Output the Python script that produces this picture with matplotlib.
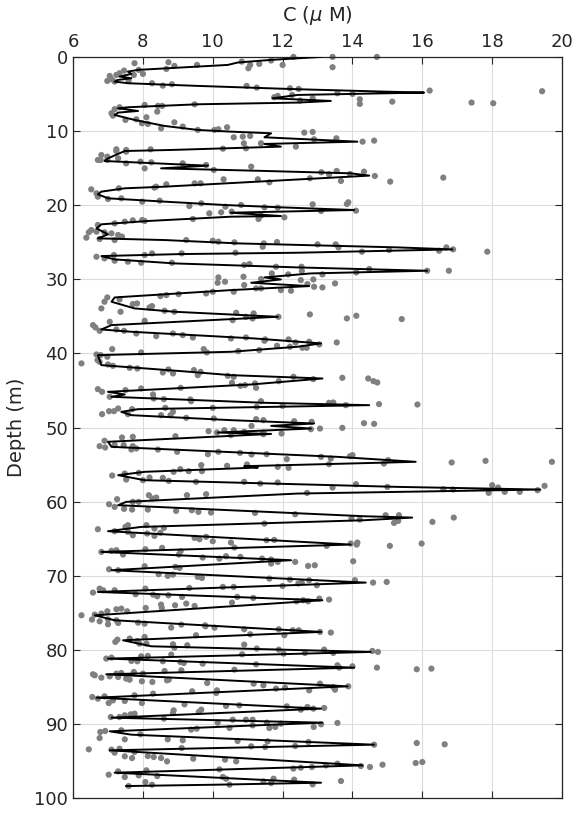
import numpy as np
import matplotlib.pyplot as plt

# black profile trace (C in uM, depth in m)
line_c = [13.10, 11.67, 10.71, 10.43, 9.57, 7.86, 7.57, 7.67, 7.33, 7.67, 7.29, 7.19,
          7.57, 9.57, 12.43, 14.90, 16.05,
          12.43, 11.71, 13.38, 12.43, 9.57, 7.57, 7.29, 7.86, 7.29, 7.19,
          7.76, 8.62, 9.57, 10.52, 11.67, 11.48, 14.14,
          11.48, 11.95, 8.81, 7.48, 7.00, 6.90, 9.86, 8.52, 11.48, 13.95, 14.48,
          11.67, 8.62, 7.48, 6.81, 6.71, 7.00, 8.62, 10.33, 11.95, 14.05,
          10.52, 11.95, 10.52, 8.14, 6.81, 6.67, 7.00, 6.71, 8.62, 10.71,
          15.29, 16.86, 12.43, 9.10, 6.81, 7.19, 8.90, 12.43, 16.14,
          12.81, 11.48, 11.95, 11.10, 12.76, 10.52, 7.19, 7.10, 7.76, 8.90, 11.86,
          7.10, 6.81, 7.67, 11.19, 13.10, 12.43, 10.52, 6.71, 6.81, 9.10, 10.52, 13.14,
          11.10, 7.00, 7.48, 7.10, 11.48, 14.48, 7.86, 7.38, 7.67, 10.52, 12.90, 11.67, 12.81, 10.14,
          11.67, 7.00, 7.10, 13.57, 15.81, 10.90, 11.29, 8.05, 7.29, 8.05, 15.29, 19.38,
          12.43, 7.52, 7.29, 14.33, 15.71, 14.33, 7.95,
          7.00, 13.95, 6.81, 12.24, 7.10, 14.38, 6.71, 13.14, 6.62,
          7.19, 13.10, 7.43, 8.24, 14.52, 7.00, 14.05, 6.95, 13.86, 6.67, 13.10, 7.10,
          13.14, 7.05, 7.67, 14.62, 7.05, 14.29, 7.19, 13.10, 10.05, 7.52]
line_depth = [0.00, 0.40, 0.76, 1.08, 1.30, 1.75, 1.98, 2.29, 2.65, 2.88, 3.10, 3.33,
              3.55, 3.91, 4.36, 4.68, 4.81,
              5.13, 5.58, 5.94, 6.16, 6.39, 6.79, 6.93, 7.29, 7.51, 7.83,
              8.50, 9.31, 9.85, 10.08, 10.30, 10.84, 11.43,
              11.74, 12.10, 12.55, 12.69, 13.68, 14.04, 14.67, 15.03, 15.38, 15.70, 16.01,
              16.73, 17.50, 17.72, 18.17, 18.53, 19.07, 19.52, 19.97, 20.29, 20.65,
              21.01, 21.46, 21.55, 22.13, 22.58, 23.12, 23.93, 24.47, 24.70, 25.15,
              25.69, 25.96, 26.41, 26.59, 26.86, 27.31, 27.85, 28.39, 28.84,
              29.20, 29.74, 30.01, 30.46, 30.91, 31.45, 32.44, 33.02, 33.92, 34.37, 35.05,
              36.17, 36.76, 37.07, 37.97, 38.64, 39.09, 39.77, 40.22, 41.57, 42.38, 42.92, 43.37,
              44.18, 45.17, 45.53, 45.84, 46.65, 46.97, 47.51, 47.87, 48.32, 48.99, 49.44, 49.76, 50.12, 50.66,
              50.85, 51.91, 52.59, 53.94, 54.61, 55.20, 55.38, 55.96, 56.41, 57.09, 57.99, 58.35,
              58.89, 60.01, 60.46, 61.95, 62.13, 62.49, 63.39,
              63.97, 65.77, 66.76, 67.88, 69.23, 70.90, 72.16, 73.28, 75.31,
              75.98, 77.55, 78.68, 79.49, 80.25, 81.15, 82.37, 83.27, 84.89, 86.42, 87.90, 89.12,
              89.79, 90.96, 91.41, 92.76, 93.52, 95.55, 96.54, 97.89, 98.16, 98.34]

# grey sample points (C, depth)
dots = [
    (12.31, 0.0), (13.43, 0.0), (14.70, 0.0), (13.43, 1.39), (7.76, 0.85), (8.73, 0.72), (8.90, 1.21),
    (9.55, 1.08), (10.83, 0.63), (11.07, 1.08), (11.02, 1.53), (11.33, 0.94), (11.67, 0.49), (12.00, 1.08),
    (8.67, 1.62), (7.88, 1.75), (8.00, 2.29), (7.74, 2.43), (7.46, 1.85), (7.33, 2.20), (7.24, 2.43),
    (7.05, 2.56), (7.10, 3.00), (6.98, 3.24), (7.19, 3.33), (7.59, 3.20), (8.26, 3.55), (8.57, 3.87),
    (8.83, 3.69), (10.97, 3.91), (11.26, 4.14), (12.21, 4.23), (12.46, 4.32), (12.27, 5.13), (11.86, 5.26),
    (11.76, 5.44), (12.50, 5.89), (12.86, 5.58), (13.57, 4.90), (14.00, 4.99), (14.21, 5.71), (14.21, 6.34),
    (15.14, 6.03), (16.21, 4.54), (17.41, 6.16), (18.03, 6.25), (19.43, 4.63), (8.05, 6.48), (8.43, 6.61),
    (8.55, 6.61), (9.48, 6.39), (7.33, 6.79), (7.19, 7.06), (8.41, 7.38), (7.10, 7.60), (7.14, 7.92),
    (7.50, 8.50), (7.81, 8.41), (8.10, 8.14), (7.97, 8.95), (8.14, 9.04), (8.52, 9.63), (8.90, 8.82),
    (9.14, 9.40), (9.57, 9.85), (10.05, 9.85), (10.16, 9.76), (10.41, 9.49), (10.60, 10.84), (10.86, 10.75),
    (10.89, 11.65), (11.07, 10.66), (11.38, 11.65), (12.62, 10.21), (12.86, 10.12), (12.90, 11.11),
    (13.54, 10.98), (14.29, 11.43), (14.62, 11.29), (12.38, 12.10), (7.24, 12.46), (7.52, 12.55),
    (8.22, 12.46), (10.29, 12.38),
    (10.95, 12.33), (7.24, 12.69), (7.52, 12.78), (6.81, 13.23), (6.98, 13.45), (6.71, 13.90), (6.79, 13.90),
    (6.98, 13.90), (7.29, 13.68), (7.52, 14.35), (7.93, 14.13), (8.24, 14.22), (8.05, 15.03), (9.14, 14.35),
    (9.81, 14.58), (10.03, 15.25), (11.10, 14.80), (13.11, 15.56), (13.33, 15.83), (13.55, 15.38),
    (13.93, 15.79), (14.33, 15.47), (14.64, 16.06), (15.08, 16.82), (16.60, 16.28), (13.67, 16.73),
    (12.78, 16.37), (11.29, 16.51), (11.62, 16.91), (10.31, 16.51), (9.48, 17.05), (9.65, 17.05),
    (8.67, 17.18), (8.38, 17.50), (8.33, 17.63), (7.31, 17.72), (6.52, 17.86), (6.67, 18.40), (6.71, 18.85),
    (7.00, 19.16), (7.38, 19.07), (7.98, 19.52), (8.48, 19.39), (9.33, 20.11), (9.67, 19.75), (10.36, 20.20),
    (10.81, 19.97), (11.48, 20.29), (11.86, 20.33), (12.86, 19.88), (13.84, 19.84), (13.88, 19.61),
    (14.10, 20.74), (13.10, 20.78), (10.54, 20.87), (10.24, 20.96), (9.90, 21.10), (11.38, 21.41),
    (12.05, 21.64), (11.31, 21.86), (9.43, 21.86), (8.05, 22.13), (7.98, 22.00), (7.71, 22.04), (7.48, 22.22),
    (7.19, 22.45), (6.71, 22.67), (6.52, 23.35), (6.45, 23.66), (6.67, 23.57), (6.90, 23.66), (7.10, 23.80),
    (7.29, 24.02), (7.40, 24.25), (6.38, 24.38), (6.76, 24.56), (7.19, 24.70), (9.24, 24.70), (10.00, 24.79),
    (10.16, 24.92), (10.62, 25.01), (11.46, 25.15), (11.84, 24.97), (13.00, 25.28), (13.52, 25.28),
    (11.43, 25.60), (13.60, 25.69), (16.69, 25.69), (16.88, 25.96), (16.48, 26.14), (17.86, 26.27),
    (14.27, 26.27), (15.05, 26.05), (10.65, 26.41), (9.11, 26.50), (8.26, 26.50), (8.05, 26.72),
    (7.17, 26.72), (6.67, 26.95), (6.90, 27.17), (7.19, 27.49), (7.57, 27.62), (7.95, 27.76), (8.83, 27.76),
    (10.90, 28.07), (11.05, 27.94), (11.81, 28.30), (12.54, 28.30), (12.55, 28.88), (16.14, 28.84),
    (16.76, 28.84), (14.48, 28.61), (14.11, 29.06), (13.14, 29.33), (12.16, 29.33), (11.69, 29.20),
    (11.38, 29.96), (10.88, 29.65), (10.16, 29.74), (10.14, 30.46), (10.35, 30.32), (10.90, 30.77),
    (11.24, 31.22), (11.38, 31.22), (11.95, 31.45), (12.24, 31.54), (12.52, 30.10), (12.71, 30.64),
    (12.88, 30.01), (12.90, 31.00), (13.14, 31.09), (13.50, 30.55), (10.60, 31.67), (10.00, 31.67),
    (9.81, 31.90), (9.02, 31.99), (8.67, 32.12), (8.50, 32.26), (6.98, 32.44), (6.90, 33.02), (6.81, 33.92),
    (7.33, 32.71), (7.36, 34.37), (7.71, 33.34), (7.83, 33.25), (8.19, 33.79), (8.26, 33.61), (8.62, 34.24),
    (8.90, 34.37), (10.67, 34.51), (10.95, 35.05), (11.17, 34.60), (11.14, 35.27), (11.88, 35.05),
    (10.57, 35.50), (12.78, 34.73), (13.84, 35.27), (14.11, 34.91), (15.41, 35.36), (8.05, 35.59),
    (7.05, 35.72), (6.57, 36.17), (6.64, 36.49), (6.76, 36.94), (7.24, 36.76), (7.46, 36.94), (7.81, 37.30),
    (8.38, 37.66), (8.86, 37.30), (9.14, 37.52), (9.43, 37.84), (10.52, 37.97), (10.95, 37.84), (11.50, 38.10),
    (12.17, 38.10),
    (11.48, 38.28), (12.37, 38.51), (12.76, 38.42), (13.05, 38.78), (13.55, 38.51), (11.84, 38.96),
    (12.21, 39.09), (12.57, 39.23), (12.69, 39.23), (11.33, 39.54), (10.73, 39.68), (9.74, 39.41),
    (9.83, 39.86), (7.95, 39.86), (7.12, 39.41), (6.67, 40.13), (6.79, 40.22), (6.98, 40.44), (6.24, 41.34),
    (6.70, 40.89), (6.76, 41.12), (7.00, 41.48), (7.14, 41.66), (7.62, 41.93), (7.84, 42.02), (8.57, 42.56),
    (8.73, 42.15), (8.86, 42.69), (9.46, 42.24), (9.65, 42.47), (9.57, 42.92), (10.43, 43.01), (10.60, 43.14),
    (10.55, 43.95), (10.79, 44.36), (10.92, 44.27), (11.24, 44.63), (11.21, 44.04), (11.89, 43.73),
    (12.31, 43.14), (12.88, 43.46), (13.71, 43.28), (14.45, 43.37), (14.60, 43.73), (14.71, 43.91),
    (6.71, 44.81), (6.83, 45.17), (7.50, 44.94), (7.95, 44.72), (9.08, 44.63), (7.05, 45.84), (8.29, 45.53),
    (8.31, 46.07), (8.60, 46.16), (9.36, 46.20), (9.38, 46.43), (10.00, 47.33), (11.26, 47.19), (11.38, 46.43),
    (12.00, 47.06), (13.33, 46.65), (13.45, 46.61), (13.81, 46.97), (14.76, 46.83), (15.86, 46.88),
    (6.83, 48.18), (7.03, 47.78), (7.17, 47.78), (7.29, 47.42), (7.69, 47.51), (7.57, 48.18), (8.52, 48.32),
    (8.64, 47.33), (8.79, 48.32), (8.86, 47.87), (9.24, 48.68), (10.03, 48.77), (11.24, 48.86), (11.45, 48.99),
    (11.11, 49.76), (12.33, 49.13), (12.83, 49.22), (13.07, 50.12), (12.81, 50.21), (13.71, 50.03),
    (14.33, 49.40), (14.62, 49.49), (9.88, 50.48), (10.12, 50.66), (10.33, 50.34), (10.60, 50.34),
    (11.45, 50.66), (11.97, 50.79),
    (10.52, 51.01), (10.90, 50.56), (11.45, 50.88), (6.90, 51.78), (6.76, 52.50), (6.92, 52.68), (7.19, 52.36),
    (7.40, 51.33), (7.71, 51.24), (7.45, 52.36), (7.71, 52.50), (7.81, 52.81), (7.67, 52.95), (8.93, 51.15),
    (8.43, 52.95), (8.98, 53.26), (9.86, 53.58), (10.16, 53.26), (10.78, 53.40), (11.11, 53.62),
    (11.54, 53.58), (12.12, 54.25), (13.10, 53.94), (13.93, 53.85), (14.00, 53.71), (13.38, 54.16),
    (13.33, 54.93), (14.90, 54.84), (15.02, 54.39), (16.84, 54.70), (17.81, 54.48), (19.71, 54.61),
    (9.67, 55.06), (10.41, 55.15), (10.98, 54.97), (11.86, 55.29), (12.17, 55.42), (7.12, 56.46),
    (7.48, 56.19), (7.52, 57.00), (7.88, 56.10), (8.00, 57.09), (8.19, 56.73), (8.57, 56.77), (8.74, 57.18),
    (8.88, 55.96), (9.07, 55.60), (9.31, 55.87), (9.69, 55.87), (9.52, 57.31), (10.90, 57.31), (11.36, 57.54),
    (11.86, 57.40), (13.43, 58.08), (14.10, 57.63), (15.00, 57.99), (16.60, 58.30), (16.88, 58.35),
    (18.00, 57.76), (18.17, 58.08), (17.90, 58.80), (18.36, 58.66), (18.79, 58.66), (19.30, 58.44),
    (19.50, 57.85), (12.70, 58.80), (9.81, 58.98), (9.26, 59.11), (8.17, 59.11), (8.27, 59.56), (8.38, 59.43),
    (7.03, 60.33), (7.19, 60.69), (7.26, 59.65), (7.71, 60.01), (7.88, 60.01), (7.46, 60.96), (7.69, 61.05),
    (8.14, 61.05), (8.95, 61.23), (9.40, 61.14), (9.59, 61.36), (9.95, 61.45), (11.21, 61.50), (12.36, 61.68),
    (13.97, 62.26), (14.21, 62.40), (14.95, 61.81), (15.33, 61.81), (15.19, 62.85), (15.31, 62.58),
    (16.29, 62.71), (16.90, 62.13), (11.48, 62.94), (6.71, 63.70), (7.50, 63.39), (7.57, 63.16), (8.10, 63.16),
    (8.33, 63.61), (8.60, 63.52),
    (7.19, 63.97), (7.57, 64.06), (7.71, 64.51), (8.12, 64.28), (8.33, 64.60), (8.50, 64.19), (9.48, 64.87),
    (9.62, 65.05), (9.81, 64.73), (10.00, 65.32), (10.52, 65.50), (10.62, 66.17), (11.54, 65.18),
    (11.76, 65.14), (13.26, 65.95), (13.95, 65.63), (14.12, 65.77), (14.14, 65.50), (15.07, 65.95),
    (15.98, 65.63), (6.81, 66.76), (7.10, 66.62), (7.24, 66.53), (7.43, 67.12), (8.07, 66.40), (8.55, 66.22),
    (9.08, 66.67), (9.03, 67.12), (9.71, 67.52), (10.19, 67.66), (10.38, 67.34), (10.79, 67.43),
    (11.41, 67.66), (11.67, 67.79), (11.67, 68.33), (11.86, 68.11), (12.36, 68.11), (12.73, 68.65),
    (12.92, 68.56), (14.02, 68.02), (7.03, 69.10), (7.29, 69.23), (8.05, 68.69), (8.93, 68.78), (9.05, 68.92),
    (8.45, 69.77), (8.71, 69.99), (8.86, 69.82), (9.57, 70.13), (9.69, 70.27), (11.62, 70.36), (12.21, 70.49),
    (12.76, 70.58), (12.45, 71.03), (12.55, 70.90), (12.98, 71.26), (12.00, 71.35), (10.60, 71.48),
    (10.29, 71.48), (9.33, 71.62), (14.07, 70.58), (14.59, 70.90), (14.98, 70.81), (6.76, 71.71),
    (6.57, 72.25), (6.86, 71.93), (7.19, 71.93), (8.07, 71.71), (7.79, 72.47), (8.29, 72.52), (8.41, 72.74),
    (8.73, 72.61), (9.12, 72.83), (10.70, 72.83), (11.16, 72.97), (10.55, 73.60), (12.40, 73.42),
    (12.59, 73.28), (12.73, 73.42), (13.05, 73.06), (13.33, 73.19), (8.08, 74.32), (8.52, 73.87),
    (8.54, 74.32), (8.92, 73.96), (9.24, 73.73), (9.48, 74.05), (7.24, 74.50), (7.38, 74.41), (7.55, 74.77),
    (6.98, 74.77), (6.81, 75.08), (6.24, 75.31), (6.62, 75.22), (6.54, 75.89), (6.76, 76.12), (7.00, 75.85),
    (7.24, 75.98), (7.86, 76.30), (8.05, 76.43), (9.10, 76.57), (9.78, 76.66),
    (7.00, 76.52), (7.29, 76.34), (8.81, 76.97), (9.79, 76.79), (10.05, 76.97), (10.90, 77.19),
    (11.07, 77.87), (11.89, 77.19), (12.05, 78.00), (12.29, 77.33), (12.46, 77.33), (13.07, 77.55),
    (13.38, 77.64), (9.52, 78.00), (7.21, 78.90), (7.27, 78.59), (7.62, 78.45), (7.84, 78.77), (8.05, 78.23),
    (7.90, 79.13), (8.10, 79.13), (8.86, 79.22), (8.90, 79.67), (9.27, 79.35), (10.90, 79.26), (11.26, 79.80),
    (11.89, 79.94), (12.03, 80.48), (12.64, 80.39), (13.19, 79.94), (13.45, 80.39), (14.57, 80.12),
    (14.73, 80.25), (10.84, 80.57), (8.81, 80.61), (6.95, 81.15), (7.10, 81.02), (7.95, 80.84), (8.14, 80.79),
    (7.67, 81.47), (7.84, 81.51), (8.57, 81.51), (9.07, 81.60), (9.17, 81.74), (9.71, 81.83), (11.24, 81.92),
    (13.57, 82.05), (14.00, 82.19), (13.62, 82.37), (14.70, 82.37), (15.84, 82.59), (16.26, 82.50),
    (10.62, 82.64), (9.10, 82.73), (8.62, 82.82), (8.00, 83.18), (7.74, 82.95), (7.38, 83.09), (7.24, 83.18),
    (6.57, 83.27), (6.62, 83.40), (6.81, 83.72), (7.05, 83.54), (7.29, 83.63), (7.52, 83.85), (7.62, 83.99),
    (7.97, 84.21), (8.27, 84.30), (8.69, 84.08), (8.74, 83.99), (9.84, 84.44), (11.17, 84.53), (11.45, 84.75),
    (11.81, 85.20), (12.07, 85.07), (12.76, 85.43), (13.07, 84.53), (13.45, 84.98), (13.50, 85.34),
    (13.88, 84.89), (10.12, 85.43), (10.10, 85.79), (9.41, 85.56), (8.29, 85.88), (7.76, 86.10), (6.55, 86.33),
    (6.71, 86.55), (6.90, 86.24), (7.14, 86.78), (7.48, 86.87), (7.02, 87.14), (7.97, 87.14), (9.19, 87.32),
    (10.38, 87.54), (10.76, 87.45), (12.12, 87.59), (12.52, 88.04), (12.71, 87.68), (12.88, 87.90),
    (13.19, 87.81), (8.88, 88.13), (8.86, 88.49), (9.60, 88.35), (9.67, 88.04), (7.08, 89.03), (7.33, 89.03),
    (7.48, 88.80), (7.65, 88.67), (7.76, 88.58), (8.60, 89.25), (10.57, 89.39), (10.95, 89.39), (11.14, 89.39),
    (10.14, 89.79), (11.14, 90.15), (11.55, 89.79), (11.95, 89.92), (11.62, 90.51), (11.79, 90.37),
    (12.89, 90.37), (13.10, 90.01), (13.57, 89.83), (10.48, 90.51), (9.38, 90.73), (9.54, 90.60),
    (6.78, 91.05), (6.92, 90.91), (7.38, 90.82), (7.93, 91.36), (6.76, 91.86), (7.48, 92.04), (8.71, 92.04),
    (9.14, 92.17), (10.71, 92.26), (11.57, 92.31), (12.74, 92.40), (12.36, 92.94), (11.50, 93.07),
    (11.10, 92.98), (15.84, 92.53), (16.64, 92.71), (14.62, 92.76), (6.45, 93.39), (7.10, 93.43),
    (7.33, 93.30), (7.19, 93.84), (7.76, 93.75), (7.48, 94.33), (7.69, 94.56), (8.14, 94.29), (8.31, 94.42),
    (8.52, 94.56), (8.69, 95.01), (9.11, 93.21), (9.44, 94.65), (10.35, 94.78), (10.67, 95.01),
    (13.57, 95.32), (13.24, 95.55), (14.24, 95.64), (14.50, 95.77), (14.86, 95.46), (15.81, 95.23),
    (16.00, 95.10), (12.31, 95.99), (12.52, 95.86), (12.84, 95.77), (10.19, 96.09), (8.10, 96.22),
    (7.29, 96.36), (7.02, 96.81), (7.48, 97.12), (7.88, 96.90), (8.41, 96.99), (10.29, 97.12), (10.38, 97.35),
    (11.45, 97.71), (11.67, 97.93), (11.74, 97.35), (12.33, 97.48), (12.86, 98.11), (13.67, 97.66),
    (8.07, 97.80), (8.26, 98.16), (7.59, 98.34), (10.48, 98.16),
]
dot_c = [p[0] for p in dots]
dot_depth = [p[1] for p in dots]

x_ticks = [6, 8, 10, 12, 14, 16, 18, 20]
y_ticks = [0, 10, 20, 30, 40, 50, 60, 70, 80, 90, 100]

fig = plt.figure(figsize=(5.8, 8.13), dpi=100)
ax = fig.add_axes([0.126, 0.018, 0.843, 0.912])

ax.scatter(dot_c, dot_depth, s=20, color='#808080', edgecolors='none', zorder=2, clip_on=False)
ax.plot(line_c, line_depth, color='black', lw=1.4, zorder=3)

ax.set_xlim(6, 20)
ax.set_ylim(100, 0)
ax.set_xticks(x_ticks)
ax.set_yticks(y_ticks)
ax.xaxis.tick_top()
ax.xaxis.set_label_position('top')
ax.tick_params(direction='in', length=5, width=0.8, colors='#262626', labelsize=13,
               top=True, bottom=True, left=True, right=True)
ax.tick_params(axis='x', pad=4)
ax.grid(True, color='#dcdcdc', lw=0.8)
ax.set_axisbelow(True)
for s in ax.spines.values():
    s.set_color('#262626')
    s.set_linewidth(0.9)

ax.set_xlabel(r'C ($\mu$ M)', fontsize=14, color='#262626', labelpad=9)
ax.set_ylabel('Depth (m)', fontsize=14, color='#262626', labelpad=6)

fig.savefig('out.png', dpi=100)
